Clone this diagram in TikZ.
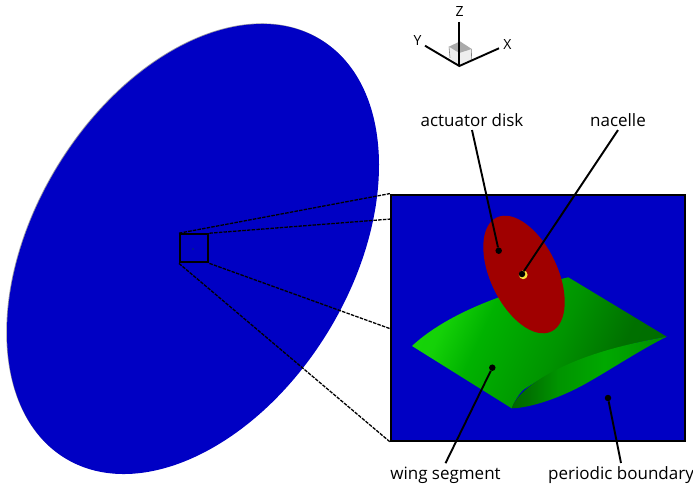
\documentclass[tikz,border=0pt]{standalone}
\usepackage{fontspec}
\setmainfont{Open Sans}
\usetikzlibrary{positioning, shapes.geometric}
\definecolor{diskblue}{RGB}{0,0,196}
\definecolor{diskred}{RGB}{160,0,0}
\definecolor{edgegray}{RGB}{150,150,160}
\definecolor{nacelleyellow}{RGB}{250,225,60}
\definecolor{cubetop}{RGB}{170,170,170}
\definecolor{cubeside}{RGB}{238,238,238}
\pgfdeclarehorizontalshading{wingupper}{100bp}{
  rgb(0bp)=(0.12,0.88,0.05); rgb(28bp)=(0.08,0.82,0.03); rgb(37bp)=(0,0.70,0);
  rgb(54bp)=(0,0.58,0); rgb(68bp)=(0,0.44,0); rgb(100bp)=(0,0.40,0)}
\pgfdeclarehorizontalshading{winglower}{100bp}{
  rgb(0bp)=(0,0.40,0); rgb(25bp)=(0,0.40,0); rgb(30bp)=(0,0.44,0);
  rgb(40bp)=(0,0.58,0); rgb(55bp)=(0,0.66,0); rgb(75bp)=(0,0.56,0); rgb(100bp)=(0,0.52,0)}
\begin{document}
\begin{tikzpicture}[x=1pt, y=1pt, every node/.style={font=\fontsize{17}{20}\selectfont},
  axislabel/.style={font=\fontsize{14}{16}\selectfont, inner sep=0pt},
  leader/.style={draw=black, line width=1.9pt},
  pin/.style={circle, fill=black, inner sep=0pt, minimum size=6.5pt},
  axisline/.style={draw=black, line width=1.9pt},
  zoomedge/.style={draw=black, line width=1.3pt, dash pattern=on 3.5pt off 1.2pt},
  framed/.style={draw=black, line width=2.2pt, inner sep=0pt}]
 \useasboundingbox (0,0) rectangle (693,-489);
 % full boundary
 \fill[edgegray, rotate around={58.6:(192.3,-248.4)}] (192.3,-248.4) ellipse (245.2 and 158.4);
 \fill[diskblue, rotate around={58.6:(193,-249)}] (193,-249) ellipse (245.2 and 158.4);
 \fill[black!60!green] (193,-249) circle (0.6);
 % zoom frames
 \node[framed, minimum width=28.3pt, minimum height=28pt] (zoombox) at (194.2,-248.3) {};
 \node[framed, fill=diskblue, minimum width=294pt, minimum height=246pt] (detail) at (538,-317.7) {};
 \coordinate (detailupper) at (391,-219);
 \coordinate (detaillower) at (391,-329);
 \draw[zoomedge] (zoombox.north west) -- (detail.north west);
 \draw[zoomedge] (zoombox.north east) -- (detailupper);
 \draw[zoomedge] (zoombox.south east) -- (detaillower);
 \draw[zoomedge] (zoombox.south west) -- (detail.south west);
 % wing
 \shade[shading=wingupper, shading angle=-25] (412,-346) .. controls (440,-320) and (490,-295) .. (568.3,-277.3)
   -- (666.7,-336.7) .. controls (607,-347) and (557,-367) .. (523,-390) .. controls (518,-395) and (514,-402) .. (511.7,-408.3) -- cycle;
 \shade[shading=winglower, shading angle=0] (511.7,-408.3) .. controls (514,-400) and (523,-390) .. (540,-379)
   .. controls (575,-357) and (620,-345) .. (666.7,-336.7) .. controls (640,-350) and (610,-370) .. (585,-384)
   .. controls (560,-398) and (530,-408) .. (511.7,-408.3) -- cycle;
 % actuator disk
 \fill[diskred, rotate around={-64.4:(524,-274.5)}] (524,-274.5) ellipse (63.2 and 33.5);
 \fill[nacelleyellow] (523.2,-274.8) circle (4.4);
 % pins
 \node[pin] (diskpin) at (498.7,-250.7) {};
 \node[pin] (nacellepin) at (522,-274) {};
 \node[pin] (wingpin) at (492.3,-367.7) {};
 \node[pin] (boundarypin) at (608,-398) {};
 % labels
 \node (disklabel) at (472,-120) {actuator disk};
 \node (nacellelabel) at (618,-120) {nacelle};
 \node (winglabel) at (445.5,-475) {wing segment};
 \node (boundarylabel) at (621,-475) {periodic boundary};
 \draw[leader] (disklabel.south) -- (diskpin);
 \draw[leader] (nacellelabel.south) -- (nacellepin);
 \draw[leader] (winglabel.north) -- (wingpin);
 \draw[leader] (boundarylabel.north) -- (boundarypin);
 % triad
 \coordinate (origin) at (459.3,-66);
 \coordinate (zend) at (459.3,-22);
 \coordinate (yend) at (425,-45.7);
 \coordinate (xend) at (499,-48.3);
 \fill[cubeside] (449,-46.7) -- (459.3,-53) -- (471.7,-49) -- (471.3,-60) -- (origin) -- (450,-58) -- cycle;
 \draw[gray, line width=0.6pt] (449,-46.7) -- (450,-58) (471.7,-49) -- (471.3,-60);
 \fill[cubetop] (449,-46.7) -- (460,-41.3) -- (471.7,-49) -- (459.3,-53) -- cycle;
 \draw[axisline] (zend) -- (origin);
 \draw[axisline] (yend) -- (origin) -- (xend);
 \node[axislabel] (zlabel) at (459.5,-11.5) {Z};
 \node[axislabel] (ylabel) at (417.5,-41) {Y};
 \node[axislabel] (xlabel) at (507.5,-44.5) {X};
\end{tikzpicture}
\end{document}
